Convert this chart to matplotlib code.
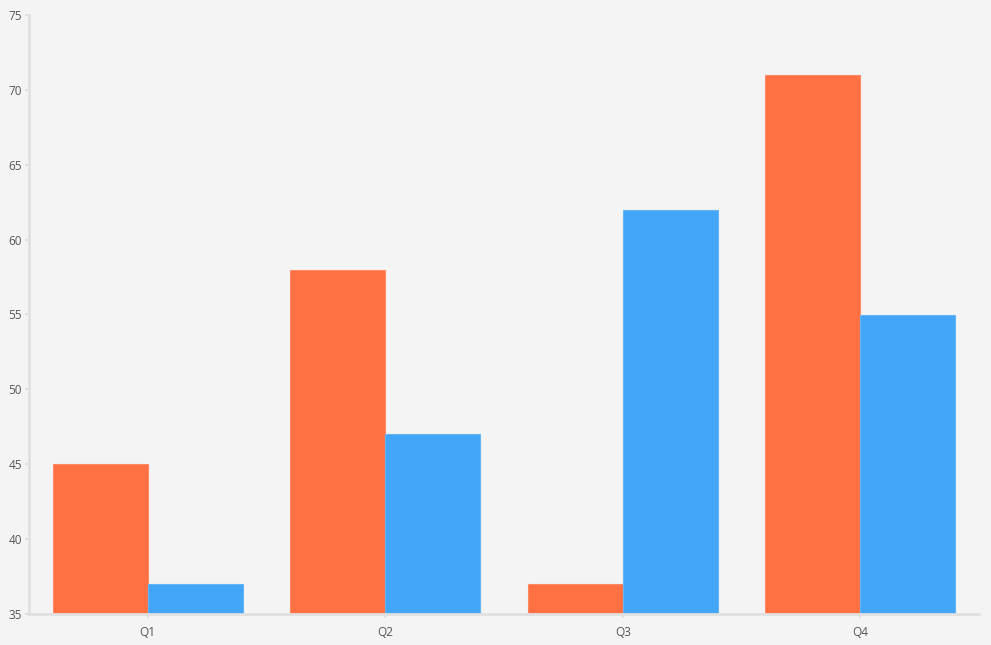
import numpy as np
import matplotlib
matplotlib.use('Agg')
import matplotlib.pyplot as plt

categories = ['Q1', 'Q2', 'Q3', 'Q4']
series_a = [45, 58, 37, 71]
series_b = [37, 47, 62, 55]
y_ticks = [35, 40, 45, 50, 55, 60, 65, 70, 75]

plt.rcParams['font.family'] = ['Open Sans', 'DejaVu Sans']

fig = plt.figure(figsize=(9.91, 6.45), dpi=100, facecolor='#f4f4f4')
ax = fig.add_axes([29 / 991, 31 / 645, 950 / 991, 599 / 645])
ax.set_facecolor('#f4f4f4')

x = np.arange(len(categories))
w = 0.4
ax.bar(x - w / 2, [v - 35 for v in series_a], w, bottom=35, color='#ff7043',
       edgecolor='#ff8a65', linewidth=0.8)
ax.bar(x + w / 2, [v - 35 for v in series_b], w, bottom=35, color='#42a5f5',
       edgecolor='#64b5f6', linewidth=0.8)

ax.set_xlim(-0.5, len(categories) - 0.5)
ax.set_ylim(35, 75)
ax.set_yticks(y_ticks)
ax.set_xticks(x)
ax.set_xticklabels(categories)

for s in ['top', 'right']:
    ax.spines[s].set_visible(False)
for s in ['left', 'bottom']:
    ax.spines[s].set_color('#e0e0e0')
    ax.spines[s].set_linewidth(2)

ax.tick_params(axis='both', colors='#e0e0e0', labelcolor='#555555', labelsize=8.5,
               length=3, width=1.5)
ax.tick_params(axis='x', pad=6)
ax.tick_params(axis='y', pad=2)

fig.savefig('out.png', facecolor=fig.get_facecolor())
